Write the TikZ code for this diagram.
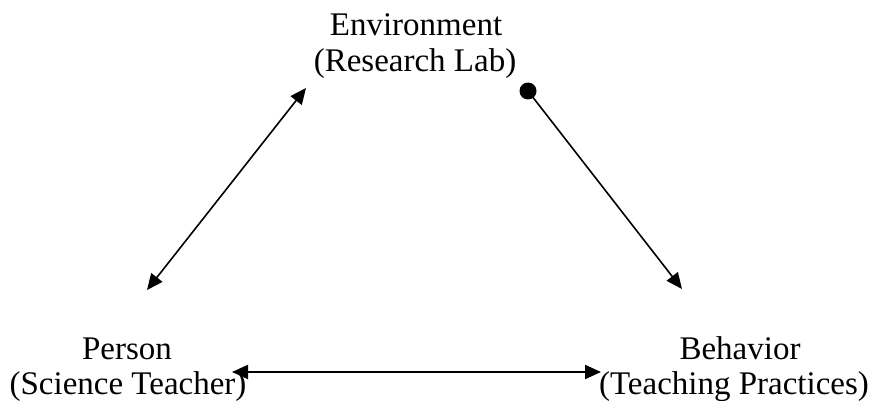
\documentclass[tikz,border=0pt]{standalone}
\usepackage{fontspec}
\setmainfont{Liberation Serif}
\usetikzlibrary{arrows.meta}
\begin{document}
\begin{tikzpicture}[x=1pt,y=-1pt,
  lbl/.style={font=\fontsize{33}{36}\selectfont, inner sep=0pt, anchor=base},
  conn/.style={line width=1.6pt, >={Triangle[length=16pt,width=14pt]}},
  thickconn/.style={conn, line width=2.1pt}]
\useasboundingbox (0,0) rectangle (870,401);
\node[lbl] (env1) at (416,36) {Environment};
\node[lbl] (env2) at (415,72) {(Research Lab)};
\node[lbl] (per1) at (127,359) {Person};
\node[lbl] (per2) at (128,394) {(Science Teacher)};
\node[lbl] (beh1) at (740,359) {Behavior};
\node[lbl] (beh2) at (734,394) {(Teaching Practices)};
\coordinate (pA) at (147,290);
\coordinate (eA) at (306,88);
\coordinate (eB) at (528,91);
\coordinate (bA) at (682,289);
\coordinate (pB) at (232,372);
\coordinate (bB) at (601,372);
\draw[conn,<->] (pA) -- (eA);
\draw[conn,->] (eB) -- (bA);
\fill (eB) circle (8.5pt);
\draw[thickconn,<->] (pB) -- (bB);
\end{tikzpicture}
\end{document}
